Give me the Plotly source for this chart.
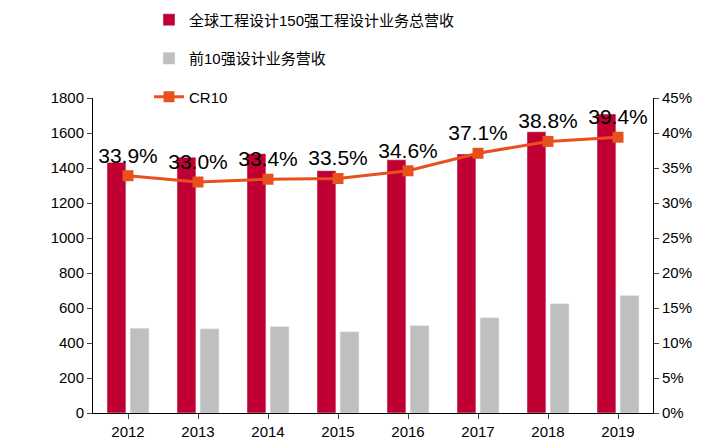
import plotly.graph_objects as go

years = ["2012", "2013", "2014", "2015", "2016", "2017", "2018", "2019"]
top150 = [1432, 1462, 1482, 1385, 1447, 1480, 1607, 1708]
top10 = [485, 481, 495, 464, 500, 545, 625, 672]
cr10 = [33.9, 33.0, 33.4, 33.5, 34.6, 37.1, 38.8, 39.4]

fig = go.Figure()
fig.add_trace(go.Bar(x=years, y=top150, name="全球工程设计150强工程设计业务总营收",
                     marker_color="#C00033", width=0.27, offset=-0.3, legendgroup="a"))
fig.add_trace(go.Bar(x=years, y=top10, name="前10强设计业务营收",
                     marker_color="#BFBFBF", width=0.27, offset=0.03, legendgroup="b"))
fig.add_trace(go.Scatter(x=years, y=cr10, name="CR10", yaxis="y2", legendgroup="c",
                         mode="lines+markers+text",
                         text=[f"{v:.1f}%" for v in cr10], textposition="top center",
                         textfont=dict(size=21, color="black"),
                         line=dict(color="#E8501E", width=3),
                         marker=dict(symbol="square", size=11, color="#E8501E")))

fig.update_layout(
    width=705, height=439, plot_bgcolor="white", paper_bgcolor="white",
    font=dict(family="Liberation Sans, Noto Sans CJK SC", size=15, color="black"),
    margin=dict(l=85, r=60, t=90, b=34, autoexpand=False),
    showlegend=True, barmode="overlay",
    legend=dict(x=0.1, y=1.3, xanchor="left", yanchor="top",
                bgcolor="rgba(0,0,0,0)", tracegroupgap=16, font=dict(size=15)),
    xaxis=dict(showline=True, linecolor="black", ticks="outside", ticklen=5,
               tickfont=dict(size=15)),
    yaxis=dict(range=[0, 1800], dtick=200, showline=True, linecolor="black",
               ticks="outside", showgrid=False, tickfont=dict(size=15)),
    yaxis2=dict(range=[0, 45], dtick=5, overlaying="y", side="right", ticksuffix="%",
                showline=True, linecolor="black", ticks="outside", showgrid=False,
                tickfont=dict(size=15)),
)
fig.write_html("out.html")
